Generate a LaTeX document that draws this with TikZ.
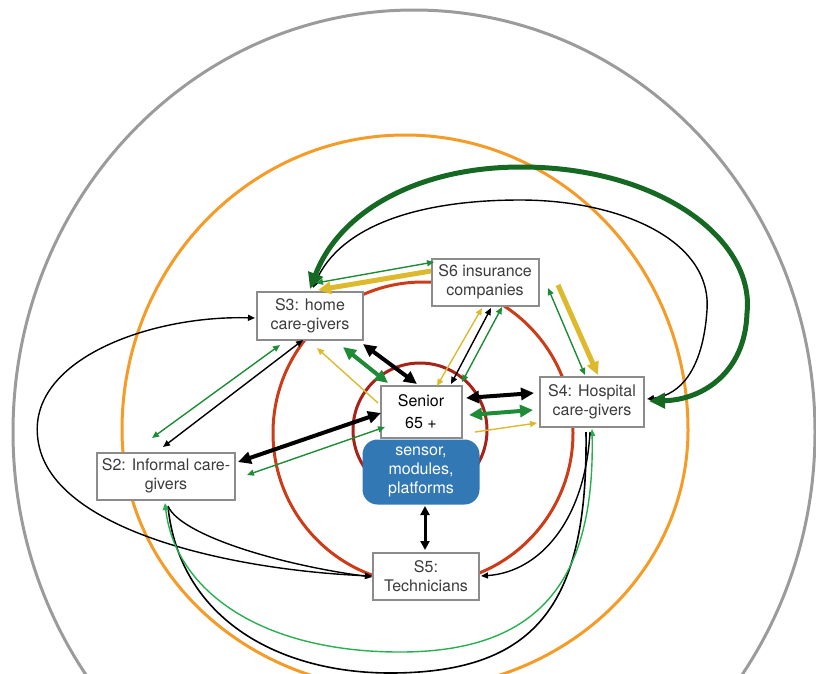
\documentclass[tikz,border=0pt]{standalone}
\usepackage{fontspec}
\setmainfont{TeX Gyre Heros}
\usetikzlibrary{arrows.meta}
\definecolor{cgray}{RGB}{155,155,155}
\definecolor{corange}{RGB}{245,155,40}
\definecolor{cred}{RGB}{205,60,25}
\definecolor{cdred}{RGB}{165,35,25}
\definecolor{dgreen}{RGB}{22,105,35}
\definecolor{cgreen}{RGB}{30,140,55}
\definecolor{bgreen}{RGB}{40,175,80}
\definecolor{cyellow}{RGB}{220,185,45}
\definecolor{pblue}{RGB}{50,120,180}
\definecolor{boxgray}{RGB}{140,140,140}
\definecolor{textgray}{RGB}{60,60,60}
\tikzset{
  TN/.tip={Triangle[length=7pt,width=6pt]},
  TK/.tip={Triangle[length=13pt,width=12pt]},
  TG/.tip={Triangle[length=16pt,width=15pt]},
  box/.style={draw=boxgray, line width=2pt, fill=white, inner sep=0pt, align=center,
    text=textgray, font=\fontsize{16}{19}\selectfont},
  platbox/.style={fill=pblue, rounded corners=15pt, inner sep=0pt, align=center,
    text=white, font=\fontsize{16}{19}\selectfont, minimum width=117pt, minimum height=65pt},
  ring/.style={line width=3pt},
  dthin/.style={line width=1.4pt, TN-TN},
  sthin/.style={line width=1.4pt, -TN},
  dthick/.style={line width=4pt, TK-TK},
  sthick/.style={line width=5pt, -TK},
}
\begin{document}
\begin{tikzpicture}[x=1pt,y=-1pt]
\useasboundingbox (0,0) rectangle (816,673);
\begin{scope}
\clip (0,0) rectangle (816,673);
\draw[ring, cgray] (414,432) ellipse [x radius=401, y radius=422];
\draw[ring, corange] (122,430) arc[start angle=180, end angle=360, x radius=283, y radius=295]
  arc[start angle=0, end angle=180, x radius=283, y radius=260] -- cycle;
\draw[ring, cred] (423,433) ellipse [x radius=150, y radius=151];
\draw[ring, cdred] (420,430) circle [radius=67];
\end{scope}

\node[box, minimum width=106pt, minimum height=48pt] (S3) at (310,316) {S3: home\\care-givers};
\node[box, minimum width=107pt, minimum height=47pt] (S6) at (485,282) {S6 insurance\\companies};
\node[platbox] (BL) at (421,472) {sensor,\\modules,\\platforms};
\node[box, text=black, minimum width=81pt, minimum height=52pt, font=\fontsize{16}{22}\selectfont] (SEN) at (421,412) {Senior\\65 +};
\node[box, minimum width=104pt, minimum height=50pt] (S4) at (592,402) {S4: Hospital\\care-givers};
\node[box, minimum width=138pt, minimum height=47pt] (S2) at (166,476) {S2: Informal care-\\givers};
\node[box, minimum width=106pt, minimum height=47pt] (S5) at (426,576) {S5:\\Technicians};

% big top loops S3 <-> S4
\draw[dthin, black] ([shift={(3,-28)}]S3.center) .. controls (340,225) and (420,200) .. (520,200)
  .. controls (620,200) and (712,240) .. (707,310) .. controls (703,370) and (680,395) .. ([shift={(55,-3)}]S4.center);
\draw[line width=5pt, dgreen, TG-TG] ([shift={(0,-27)}]S3.center) .. controls (340,210) and (420,167) .. (521,167)
  .. controls (660,167) and (755,240) .. (747,313) .. controls (745,375) and (700,400) .. ([shift={(57,-1)}]S4.center);

% S3 - S6
\draw[dthin, cgreen] ([shift={(6,-33)}]S3.center) -- ([shift={(-51,-20)}]S6.center);
\draw[sthick, cyellow] ([shift={(-54,-11)}]S6.center) -- ([shift={(8,-26)}]S3.center);

% S6 - S4
\draw[sthick, cyellow] ([shift={(73,3)}]S6.center) -- ([shift={(6,-27)}]S4.center);
\draw[dthin, cgreen] ([shift={(63,6)}]S6.center) -- ([shift={(-7,-27)}]S4.center);

% Senior - S6
\draw[dthin, cyellow] ([shift={(-3,26)}]S6.center) -- ([shift={(16,-26)}]SEN.center);
\draw[dthin, black] ([shift={(6,26)}]S6.center) -- ([shift={(30,-28)}]SEN.center);
\draw[dthin, cgreen] ([shift={(17,25)}]S6.center) -- ([shift={(41,-30)}]SEN.center);

% S3 - Senior
\draw[dthick, black] ([shift={(53,28)}]S3.center) -- ([shift={(-4,-28)}]SEN.center);
\draw[dthick, cgreen] ([shift={(33,31)}]S3.center) -- ([shift={(-33,-29)}]SEN.center);
\draw[sthin, cyellow] ([shift={(-43,-9)}]SEN.center) -- ([shift={(7,32)}]S3.center);

% Senior - S4
\draw[dthick, black] ([shift={(45,-14)}]SEN.center) -- ([shift={(-58,-9)}]S4.center);
\draw[dthick, cgreen] ([shift={(48,3)}]SEN.center) -- ([shift={(-59,8)}]S4.center);
\draw[sthin, cyellow] ([shift={(54,20)}]SEN.center) -- ([shift={(-55,21)}]S4.center);

% S2 - Senior
\draw[dthick, black] ([shift={(72,-14)}]S2.center) -- ([shift={(-40,1)}]SEN.center);
\draw[dthin, cgreen] ([shift={(81,-1)}]S2.center) -- ([shift={(-36,15)}]SEN.center);

% S3 - S2
\draw[dthin, cgreen] ([shift={(-30,29)}]S3.center) -- ([shift={(-14,-38)}]S2.center);
\draw[dthin, black] ([shift={(-7,24)}]S3.center) -- ([shift={(-3,-29)}]S2.center);

% left loop S5 - S3
\draw[dthin, black] ([shift={(-54,0)}]S5.center) .. controls (230,570) and (50,530) .. (38,440)
  .. controls (26,360) and (150,315) .. ([shift={(-55,2)}]S3.center);
% S2 -> S5
\draw[sthin, black] ([shift={(2,30)}]S2.center) .. controls (180,535) and (280,565) .. ([shift={(-54,1)}]S5.center);

% bottom U curves S2 - S4
\draw[line width=1.6pt, black] ([shift={(2,31)}]S2.center) .. controls (180,620) and (280,673) .. (390,673)
  .. controls (540,673) and (588,600) .. ([shift={(-6,30)}]S4.center);
\draw[dthin, bgreen] ([shift={(-1,27)}]S2.center) .. controls (175,590) and (260,652) .. (400,652)
  .. controls (540,652) and (595,580) .. ([shift={(0,27)}]S4.center);

% S4 -> S5
\draw[sthin, black] ([shift={(-2,30)}]S4.center) .. controls (585,520) and (540,572) .. ([shift={(55,0)}]S5.center);

% platforms <-> S5
\draw[line width=3pt, black, {Triangle[length=9pt,width=9pt]}-{Triangle[length=9pt,width=9pt]}] ([shift={(4,34)}]BL.center) -- ([shift={(-1,-26)}]S5.center);
\end{tikzpicture}
\end{document}
